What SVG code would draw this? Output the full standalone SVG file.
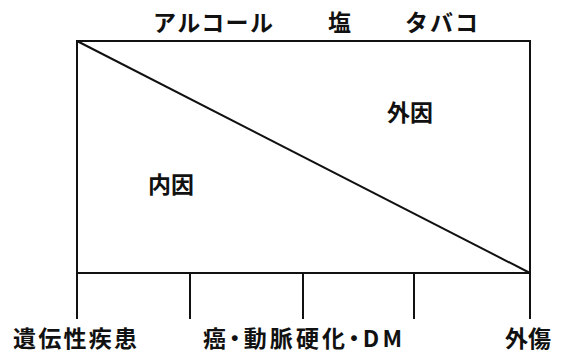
<svg xmlns="http://www.w3.org/2000/svg" width="564" height="358" viewBox="0 0 564 358">
<style>
.t{font-family:"Noto Sans CJK JP","Noto Sans",sans-serif;font-size:23px;font-weight:700;fill:#111}
.p{font-feature-settings:"palt" 1}
.l{stroke:#111;stroke-width:2;fill:none}
</style>
<rect width="564" height="358" fill="#fff"/>
<g id="connectors">
<rect class="l" x="77" y="41" width="453" height="232"/>
<line class="l" x1="77" y1="41" x2="530" y2="273"/>
<line class="l" x1="77" y1="273" x2="77" y2="319"/>
<line class="l" x1="190" y1="273" x2="190" y2="319"/>
<line class="l" x1="303" y1="273" x2="303" y2="319"/>
<line class="l" x1="414" y1="273" x2="414" y2="319"/>
<line class="l" x1="530" y1="273" x2="530" y2="319"/>
</g>
<g id="top-labels">
<text class="t" x="153" y="31" textLength="120">アルコール</text>
<text class="t" x="328" y="31">塩</text>
<text class="t" x="405" y="31" textLength="73">タバコ</text>
</g>
<g id="gaiin"><text class="t" x="387" y="121">外因</text></g>
<g id="naiin"><text class="t" x="148" y="193">内因</text></g>
<g id="bottom-labels">
<text class="t" x="13" y="347" textLength="124">遺伝性疾患</text>
<text class="t p" x="203" y="347" textLength="199">癌・動脈硬化・DM</text>
<text class="t" x="505" y="347">外傷</text>
</g>
</svg>
